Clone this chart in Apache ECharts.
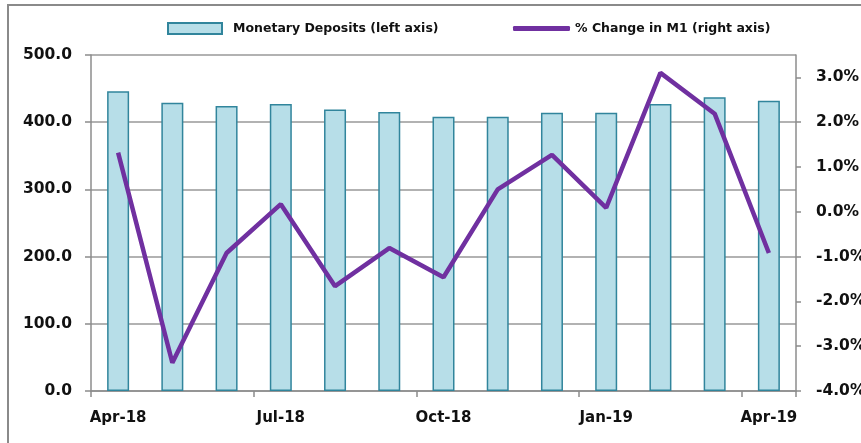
<!DOCTYPE html>
<html>
<head>
<meta charset="utf-8">
<script src="https://cdn.jsdelivr.net/npm/echarts@6/dist/echarts.min.js"></script>
<style>
  html, body { margin: 0; padding: 0; background: #fff; }
  #chart { width: 861px; height: 443px; }
</style>
</head>
<body>
<div id="chart"></div>
<script>
var months = ['Apr-18', 'May-18', 'Jun-18', 'Jul-18', 'Aug-18', 'Sep-18', 'Oct-18',
              'Nov-18', 'Dec-18', 'Jan-19', 'Feb-19', 'Mar-19', 'Apr-19'];
var deposits = [446, 429, 424, 427, 419, 415, 408, 408, 414, 414, 427, 437, 432];
var m1Change = [1.32, -3.37, -0.92, 0.17, -1.66, -0.81, -1.46, 0.50, 1.27, 0.09, 3.10, 2.19, -0.92];
var leftTicks = [0, 100, 200, 300, 400, 500];
var rightTicks = [-4, -3, -2, -1, 0, 1, 2, 3];

var font = 'DejaVu Sans';
var axisGray = '#8c8c8c';
var legendText = { fontFamily: font, fontWeight: 'bold', fontSize: 12.5, color: '#111' };

function initChart() {
    var dom = document.getElementById('chart');
    var myChart = echarts.init(dom);
    var option = {
        animation: false,
        textStyle: { fontFamily: font },
        graphic: [{
            type: 'rect',
            shape: { x: 8, y: 5, width: 1000, height: 600 },
            style: { fill: 'none', stroke: '#8a8a8a', lineWidth: 2 },
            silent: true
        }],
        legend: [{
            top: 17,
            left: 162,
            itemWidth: 54,
            itemHeight: 11,
            icon: 'rect',
            textStyle: { fontFamily: font, fontWeight: 'bold', fontSize: 12.5, color: '#111', padding: [0, 0, 0, 6] },
            data: ['Monetary Deposits (left axis)']
        }, {
            top: 17,
            left: 508,
            itemWidth: 57,
            itemHeight: 5,
            icon: 'roundRect',
            textStyle: legendText,
            data: ['% Change in M1 (right axis)']
        }],
        grid: { left: 91, right: 65, top: 55, bottom: 52, outerBoundsMode: 'none' },
        xAxis: {
            type: 'category',
            data: months,
            axisLine: { lineStyle: { color: axisGray, width: 1.5 } },
            axisTick: { show: true, interval: 2, length: 6, lineStyle: { color: axisGray, width: 1.5 } },
            axisLabel: {
                interval: 2, margin: 20, color: '#111',
                fontFamily: font, fontWeight: 'bold', fontSize: 15
            }
        },
        yAxis: [{
            type: 'value',
            min: leftTicks[0],
            max: leftTicks[leftTicks.length - 1],
            interval: 100,
            axisLine: { show: true, lineStyle: { color: axisGray, width: 1.5 } },
            axisTick: { show: true, length: 6, lineStyle: { color: axisGray, width: 1.5 } },
            splitLine: { show: true, lineStyle: { color: '#999', width: 1.5 } },
            axisLabel: {
                margin: 19, color: '#111',
                fontFamily: font, fontWeight: 'bold', fontSize: 15.5,
                formatter: function (v) { return v.toFixed(1); }
            }
        }, {
            type: 'value',
            position: 'right',
            min: -4,
            max: 3.5,
            axisLine: { show: true, lineStyle: { color: axisGray, width: 1.5 } },
            axisTick: { show: true, length: 5, customValues: rightTicks, lineStyle: { color: axisGray, width: 1.5 } },
            splitLine: { show: false },
            axisLabel: {
                margin: 20, color: '#111', customValues: rightTicks,
                fontFamily: font, fontWeight: 'bold', fontSize: 15.5,
                formatter: function (v) { return v.toFixed(1) + '%'; }
            }
        }],
        series: [{
            name: 'Monetary Deposits (left axis)',
            type: 'bar',
            yAxisIndex: 0,
            data: deposits,
            barWidth: 22,
            itemStyle: { color: '#B7DEE8', borderColor: '#31859C', borderWidth: 1.5 }
        }, {
            name: '% Change in M1 (right axis)',
            type: 'line',
            yAxisIndex: 1,
            data: m1Change,
            symbol: 'none',
            lineStyle: { color: '#7030A0', width: 4.5 },
            itemStyle: { color: '#7030A0' }
        }]
    };
    myChart.setOption(option, true);
}
initChart();
</script>
</body>
</html>
